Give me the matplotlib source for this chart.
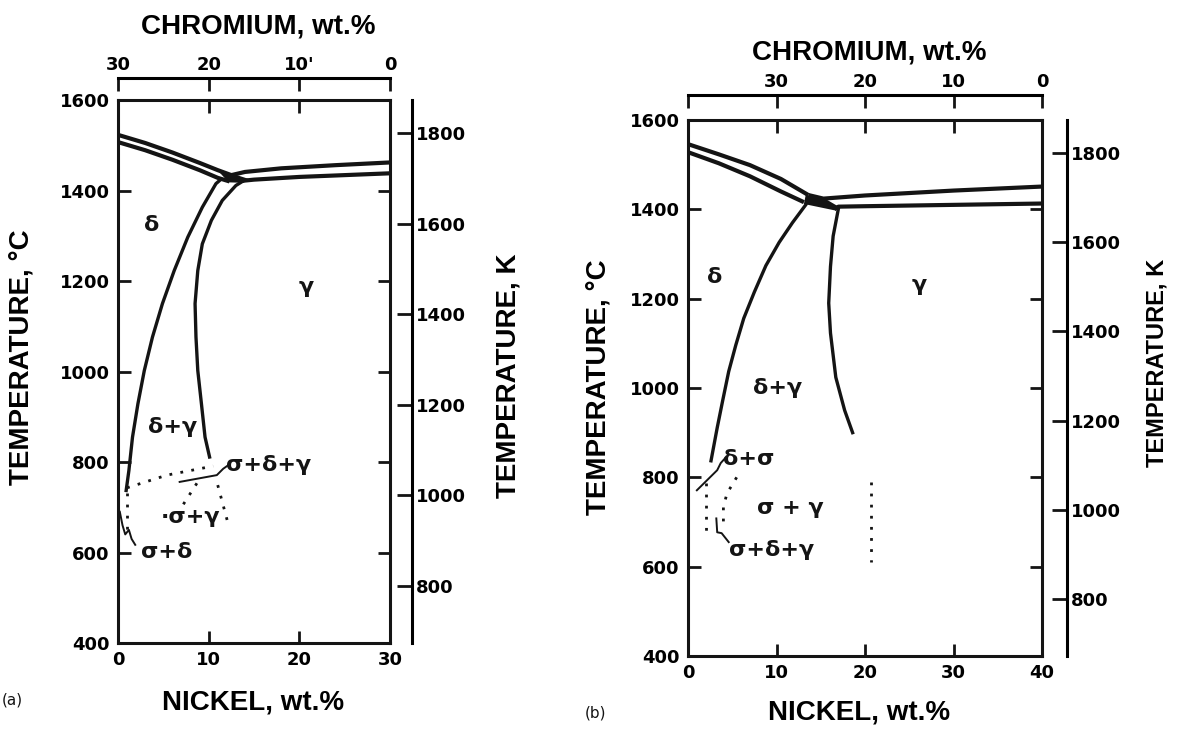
import numpy as np
import matplotlib.pyplot as plt

INK = "#141414"

# ---------------- panel (a): 70Fe isopleth, Cr = 30 - Ni ----------------
A_CR_TOTAL = 30
A_NI_TICKS = [0, 10, 20, 30]
A_CR_TICKS = [30, 20, 10, 0]
A_CR_LABELS = ["30", "20", "10'", "0"]

a_liq_left_ni = [0, 3, 6, 9, 11, 12.5]
a_liq_left_t = [1523, 1505, 1484, 1461, 1445, 1434]
a_sol_left_ni = [0, 3, 6, 9, 11, 12.3]
a_sol_left_t = [1507, 1489, 1468, 1445, 1428, 1420]
a_liq_right_ni = [12.5, 14, 18, 24, 30]
a_liq_right_t = [1434, 1441, 1449, 1456, 1462]
a_sol_right_ni = [13.5, 15, 20, 25, 30]
a_sol_right_t = [1421, 1424, 1430, 1434, 1438]
a_junction_ni = [11.2, 12.5, 14.5, 13.8, 12.2]
a_junction_t = [1440, 1438, 1425, 1417, 1418]

a_delta_ni = [11.2, 10.8, 9.3, 7.7, 6.2, 4.9, 3.8, 2.9, 2.2, 1.6, 1.2, 0.9]
a_delta_t = [1422, 1415, 1363, 1297, 1223, 1150, 1076, 1002, 929, 855, 781, 737]
a_gamma_ni = [13.8, 13.0, 11.5, 10.3, 9.3, 8.8, 8.5, 8.6, 8.8, 9.2, 9.6, 10.1]
a_gamma_t = [1421, 1411, 1378, 1334, 1282, 1223, 1150, 1076, 1002, 929, 855, 811]

a_dot_ni = [[1.0, 5.4, 10.5], [8.7, 7.0], [11.0, 12.1], [1.0, 1.0]]
a_dot_t = [[743, 771, 791], [753, 700], [749, 667], [731, 640]]
a_thin_ni = [[6.8, 10.9, 11.6, 12.3], [0.2, 0.5, 0.8, 1.2, 1.5, 1.9]]
a_thin_t = [[756, 771, 785, 795], [690, 660, 640, 650, 630, 617]]

a_regions = ["δ", "γ", "δ+γ", "σ+δ+γ", "·σ+γ", "σ+δ"]
a_region_ni = [3.7, 20.8, 6.0, 16.6, 8.0, 5.4]
a_region_t = [1324, 1187, 877, 793, 678, 600]

# ---------------- panel (b): 60Fe isopleth, Cr = 40 - Ni ----------------
B_CR_TOTAL = 40
B_NI_TICKS = [0, 10, 20, 30, 40]
B_CR_TICKS = [40, 30, 20, 10, 0]
B_CR_LABELS = ["", "30", "20", "10", "0"]

b_liq_left_ni = [0, 3.5, 7, 10.5, 13.6]
b_liq_left_t = [1546, 1523, 1499, 1468, 1432]
b_sol_left_ni = [0, 3.5, 7, 10.5, 13.1]
b_sol_left_t = [1528, 1503, 1474, 1440, 1416]
b_liq_right_ni = [13.6, 15.3, 20, 30, 40]
b_liq_right_t = [1432, 1424, 1431, 1442, 1451]
b_sol_right_ni = [16.5, 17.0, 20, 30, 40]
b_sol_right_t = [1400, 1406, 1407, 1410, 1413]
b_junction_ni = [13.3, 15.3, 17.2, 16.5, 13.1]
b_junction_t = [1432, 1426, 1404, 1398, 1412]

b_delta_ni = [13.3, 11.8, 10.3, 8.8, 7.5, 6.3, 5.4, 4.6, 3.9, 3.3, 2.6]
b_delta_t = [1410, 1370, 1326, 1274, 1215, 1156, 1096, 1037, 970, 911, 837]
b_gamma_ni = [17.0, 16.4, 16.1, 15.9, 16.1, 16.7, 17.7, 18.6]
b_gamma_t = [1402, 1340, 1272, 1190, 1123, 1024, 950, 900]

b_dot_ni = [[2.0, 2.0], [5.5, 4.4, 4.0, 4.0], [20.7, 20.7]]
b_dot_t = [[787, 670], [800, 764, 733, 697], [790, 611]]
b_thin_ni = [[1.0, 3.3, 3.7, 4.2], [3.2, 3.3, 3.8, 4.6]]
b_thin_t = [[771, 816, 832, 843], [708, 677, 675, 655]]

b_regions = ["δ", "γ", "δ+γ", "δ+σ", "σ + γ", "σ+δ+γ"]
b_region_ni = [3.0, 26.1, 10.1, 6.9, 11.6, 9.4]
b_region_t = [1249, 1230, 1000, 841, 731, 637]

C_TICKS = [400, 600, 800, 1000, 1200, 1400, 1600]
K_TICKS = [800, 1000, 1200, 1400, 1600, 1800]

TICKFONT = dict(family="DejaVu Sans", weight="bold", size=13)
LABELFONT = dict(family="Liberation Sans", weight="bold", size=20)


def draw_panel(ax, cr_total, ni_ticks, cr_ticks, cr_labels,
               liq, sol, junction, delta, gamma, dots, thins, regions,
               cr_off, k_off):
    ax.set_xlim(0, cr_total)
    ax.set_ylim(400, 1600)
    for s in ax.spines.values():
        s.set_linewidth(2.2)
        s.set_color(INK)

    for ni, t in liq + sol:
        ax.plot(ni, t, color=INK, lw=3.0, solid_capstyle="butt")
    ax.fill(junction[0], junction[1], color=INK, lw=0)
    for ni, t in (delta, gamma):
        ax.plot(ni, t, color=INK, lw=2.4)
    for ni, t in zip(*dots):
        ax.plot(ni, t, color=INK, lw=2.0, ls=(0, (1, 3)))
    for ni, t in zip(*thins):
        ax.plot(ni, t, color=INK, lw=1.4)
    for txt, ni, t in zip(*regions):
        ax.text(ni, t, txt, ha="center", va="center", fontsize=16,
                family="DejaVu Sans", weight="bold", color=INK)

    ax.set_xticks(ni_ticks)
    ax.set_yticks(C_TICKS)
    ax.set_xticklabels([str(v) for v in ni_ticks], **TICKFONT)
    ax.set_yticklabels([str(v) for v in C_TICKS], **TICKFONT)
    ax.tick_params(direction="in", top=True, right=True, length=9,
                   width=2, color=INK, pad=6)

    cr = ax.secondary_xaxis(cr_off, functions=(lambda n: cr_total - n,
                                               lambda c: cr_total - c))
    cr.set_xticks(cr_ticks)
    cr.set_xticklabels(cr_labels, **TICKFONT)
    cr.tick_params(direction="in", length=9, width=2, color=INK, pad=3)
    cr.spines["top"].set_linewidth(2.2)

    kax = ax.secondary_yaxis(k_off, functions=(lambda c: c + 273,
                                               lambda k: k - 273))
    kax.set_yticks(K_TICKS)
    kax.set_yticklabels([str(v) for v in K_TICKS], **TICKFONT)
    kax.tick_params(direction="in", length=11, width=2, color=INK, pad=3)
    kax.spines["right"].set_linewidth(2.2)


fig = plt.figure(figsize=(11.82, 7.32), dpi=100)
ax_a = fig.add_axes([118 / 1182, 1 - 643 / 732, 272 / 1182, 543 / 732])
ax_b = fig.add_axes([688 / 1182, 1 - 656 / 732, 354 / 1182, 536 / 732])

draw_panel(ax_a, A_CR_TOTAL, A_NI_TICKS, A_CR_TICKS, A_CR_LABELS,
           [(a_liq_left_ni, a_liq_left_t), (a_liq_right_ni, a_liq_right_t)],
           [(a_sol_left_ni, a_sol_left_t), (a_sol_right_ni, a_sol_right_t)],
           (a_junction_ni, a_junction_t),
           (a_delta_ni, a_delta_t), (a_gamma_ni, a_gamma_t),
           (a_dot_ni, a_dot_t), (a_thin_ni, a_thin_t),
           (a_regions, a_region_ni, a_region_t),
           1 + 22 / 543, 1 + 22 / 272)

draw_panel(ax_b, B_CR_TOTAL, B_NI_TICKS, B_CR_TICKS, B_CR_LABELS,
           [(b_liq_left_ni, b_liq_left_t), (b_liq_right_ni, b_liq_right_t)],
           [(b_sol_left_ni, b_sol_left_t), (b_sol_right_ni, b_sol_right_t)],
           (b_junction_ni, b_junction_t),
           (b_delta_ni, b_delta_t), (b_gamma_ni, b_gamma_t),
           (b_dot_ni, b_dot_t), (b_thin_ni, b_thin_t),
           (b_regions, b_region_ni, b_region_t),
           1 + 25 / 536, 1 + 25 / 354)

# axis titles
fig.text(258 / 1182, 1 - 27 / 732, "CHROMIUM, wt.%", ha="center", va="center", **LABELFONT)
fig.text(869 / 1182, 1 - 52 / 732, "CHROMIUM, wt.%", ha="center", va="center", **LABELFONT)
fig.text(253 / 1182, 1 - 702 / 732, "NICKEL, wt.%", ha="center", va="center", **LABELFONT)
fig.text(859 / 1182, 1 - 713 / 732, "NICKEL, wt.%", ha="center", va="center", **LABELFONT)
fig.text(22 / 1182, 1 - 357 / 732, "TEMPERATURE, °C", ha="center", va="center",
         rotation=90, **LABELFONT)
fig.text(508 / 1182, 1 - 376 / 732, "TEMPERATURE, K", ha="center", va="center",
         rotation=90, **LABELFONT)
fig.text(598 / 1182, 1 - 387 / 732, "TEMPERATURE, °C", ha="center", va="center",
         rotation=90, **LABELFONT)
fig.text(1157 / 1182, 1 - 363 / 732, "TEMPERATURE, K", ha="center", va="center",
         rotation=90, family="Liberation Sans", weight="bold", size=17)
fig.text(12 / 1182, 1 - 700 / 732, "(a)", ha="center", va="center",
         family="DejaVu Sans", size=11, color=INK)
fig.text(595 / 1182, 1 - 713 / 732, "(b)", ha="center", va="center",
         family="DejaVu Sans", size=11, color=INK)

fig.savefig("out.png", dpi=100)
